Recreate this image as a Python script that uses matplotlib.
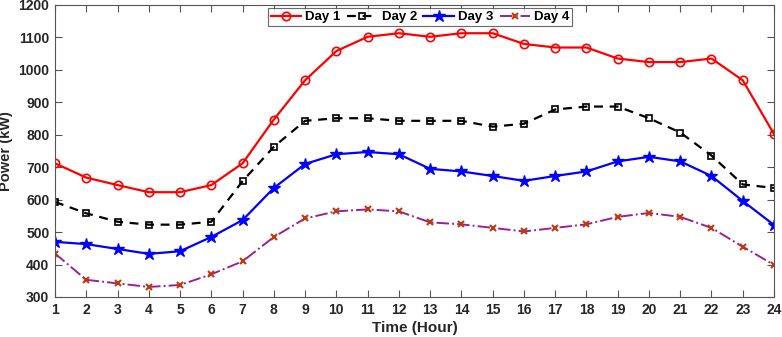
import matplotlib.pyplot as plt

plt.rcParams['font.family'] = ['Liberation Sans', 'DejaVu Sans']
plt.rcParams['font.weight'] = 'bold'

# Hourly power (kW) for four days
hours = list(range(1, 25))
day1 = [712, 668, 645, 623, 623, 645, 712, 847, 968, 1058, 1102, 1113,
        1102, 1113, 1113, 1080, 1069, 1069, 1035, 1024, 1024, 1035, 968, 802]
day2 = [593, 558, 532, 523, 523, 532, 657, 763, 843, 851, 851, 843,
        843, 843, 825, 834, 878, 887, 887, 851, 807, 736, 647, 636]
day3 = [470, 463, 448, 433, 441, 485, 537, 636, 710, 740, 747, 740,
        695, 687, 673, 658, 673, 687, 718, 732, 718, 673, 596, 522]
day4 = [434, 353, 342, 331, 337, 370, 410, 485, 542, 564, 570, 564,
        530, 524, 513, 502, 513, 524, 547, 559, 547, 513, 455, 399]

fig = plt.figure(figsize=(7.82, 3.37), dpi=100)
ax = fig.add_axes([55/782, 1 - 297/337, (774 - 55)/782, (297 - 5)/337])

ax.plot(hours, day1, color='red', linestyle='-', linewidth=1.6,
        marker='o', markersize=6, markerfacecolor='none', markeredgewidth=1.2, label='Day 1')
ax.plot(hours, day2, color='black', linestyle=(0, (4, 3)), linewidth=1.6,
        marker='s', markersize=5, markerfacecolor='none', markeredgewidth=1.2, label='Day 2')
ax.plot(hours, day3, color='blue', linestyle='-', linewidth=1.6,
        marker='*', markersize=9, label='Day 3')
ax.plot(hours, day4, color='#9b1f9b', linestyle='-.', linewidth=1.4,
        marker='x', markersize=5, markeredgecolor='#c0390b', markeredgewidth=1.5, label='Day 4')

ax.set_xlim(1, 24)
ax.set_ylim(300, 1200)
ax.set_xticks(hours)
ax.set_yticks(range(300, 1201, 100))
ax.tick_params(direction='in', top=True, right=True, labelsize=10, length=5, width=0.8,
               colors='#555555', labelcolor='#262626', pad=4)
for s in ax.spines.values():
    s.set_color('#555555')
    s.set_linewidth(0.8)

ax.set_xlabel('Time (Hour)', fontsize=11, fontweight='bold', labelpad=3, color='#262626')
ax.set_ylabel('Power (kW)', fontsize=10.5, fontweight='bold', color='#262626')
ax.yaxis.set_label_coords(-0.058, 0.5)

leg = ax.legend(loc='upper center', bbox_to_anchor=(0.508, 1.0), ncol=4, fontsize=9.5,
                frameon=True, fancybox=False, edgecolor='#444444', borderpad=0.2,
                handlelength=2.3, handletextpad=0.3, columnspacing=0.5, borderaxespad=0.25)
leg.get_frame().set_linewidth(0.8)

fig.savefig('out.png', dpi=100)
